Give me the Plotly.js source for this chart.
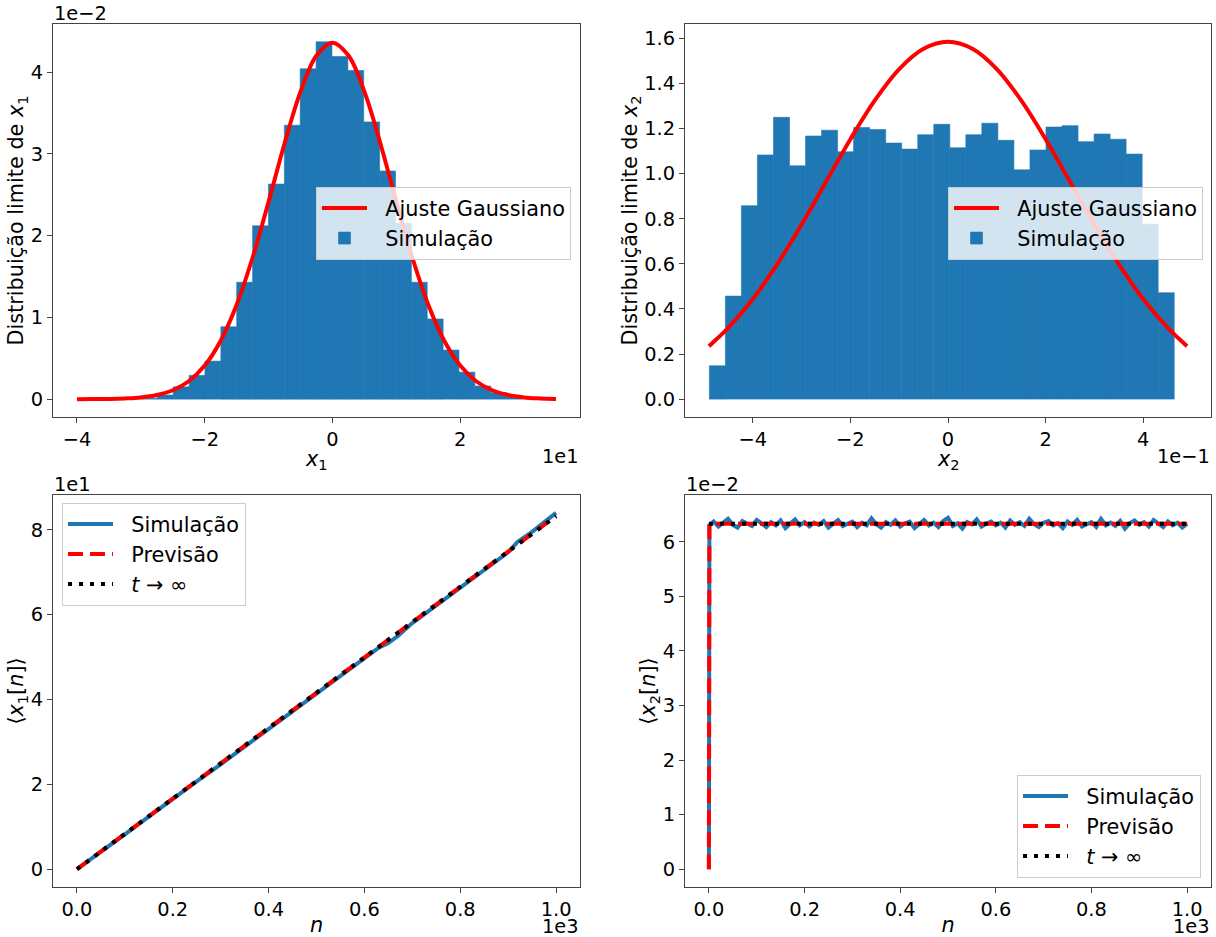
<!DOCTYPE html>
<html>
<head>
<meta charset="utf-8">
<script src="https://cdn.plot.ly/plotly-3.0.1.min.js"></script>
<style>html,body{margin:0;padding:0;background:#fff;}#chart{width:1216px;height:937px;}</style>
</head>
<body>
<div id="chart"></div>
<script>
// ---- Top-left: limit distribution of x1 (x in units of 1e1, density in units of 1e-2)
const x1BinCenters = [-2.866, -2.617, -2.369, -2.120, -1.872, -1.623, -1.375, -1.126, -0.878, -0.629, -0.381, -0.132, 0.117, 0.365, 0.614, 0.862, 1.111, 1.359, 1.608, 1.856, 2.105, 2.353, 2.602, 2.850];
const x1BinHeights = [0.01, 0.05, 0.15, 0.29, 0.465, 0.885, 1.43, 2.12, 2.63, 3.35, 4.04, 4.37, 4.19, 4.02, 3.39, 2.79, 2.15, 1.43, 0.98, 0.60, 0.33, 0.16, 0.08, 0.03];
const x1BinWidth = 0.2485;
const x1FitX = [-4, -3.75, -3.5, -3.25, -3, -2.75, -2.5, -2.25, -2, -1.75, -1.5, -1.25, -1, -0.75, -0.5, -0.25, 0, 0.25, 0.5, 0.75, 1, 1.25, 1.5, 1.75, 2, 2.25, 2.5, 2.75, 3, 3.25, 3.5];
const x1FitY = [0.000, 0.001, 0.003, 0.009, 0.021, 0.050, 0.109, 0.219, 0.410, 0.714, 1.154, 1.732, 2.415, 3.127, 3.761, 4.202, 4.360, 4.202, 3.761, 3.127, 2.415, 1.732, 1.154, 0.714, 0.410, 0.219, 0.109, 0.050, 0.021, 0.009, 0.003];

// ---- Top-right: limit distribution of x2 (x in units of 1e-1)
const x2BinCenters = [-4.726, -4.398, -4.069, -3.741, -3.412, -3.084, -2.755, -2.427, -2.098, -1.770, -1.441, -1.113, -0.784, -0.456, -0.127, 0.201, 0.530, 0.858, 1.187, 1.515, 1.844, 2.172, 2.501, 2.829, 3.158, 3.486, 3.815, 4.143, 4.472];
const x2BinHeights = [0.148, 0.457, 0.858, 1.083, 1.250, 1.035, 1.167, 1.193, 1.097, 1.205, 1.196, 1.136, 1.109, 1.173, 1.219, 1.115, 1.173, 1.224, 1.148, 1.017, 1.105, 1.207, 1.213, 1.142, 1.176, 1.153, 1.087, 0.776, 0.472];
const x2BinWidth = 0.3285;
const x2FitX = [-4.9, -4.5, -4, -3.5, -3, -2.5, -2, -1.5, -1, -0.5, 0, 0.5, 1, 1.5, 2, 2.5, 3, 3.5, 4, 4.5, 4.9];
const x2FitY = [0.235, 0.317, 0.444, 0.599, 0.775, 0.964, 1.153, 1.325, 1.464, 1.554, 1.585, 1.554, 1.464, 1.325, 1.153, 0.964, 0.775, 0.599, 0.444, 0.317, 0.235];

// ---- Bottom-left: <x1[n]> (n in units of 1e3, values in units of 1e1)
const nMean1 = [0, 0.05, 0.1, 0.15, 0.2, 0.25, 0.3, 0.35, 0.4, 0.45, 0.5, 0.55, 0.6, 0.63, 0.65, 0.67, 0.7, 0.75, 0.8, 0.85, 0.9, 0.92, 0.95, 1.0];
const simMean1 = [0, 0.40, 0.82, 1.24, 1.66, 2.07, 2.47, 2.88, 3.30, 3.72, 4.14, 4.56, 4.98, 5.22, 5.33, 5.50, 5.80, 6.22, 6.63, 7.05, 7.47, 7.72, 7.95, 8.40];
const predN1 = [0, 0.25, 0.5, 0.75, 1.0];
const predMean1 = [0, 2.08, 4.16, 6.24, 8.32];
const infN1 = [0, 1.0];
const infMean1 = [0, 8.32];

// ---- Bottom-right: <x2[n]> (n in units of 1e3, values in units of 1e-2)
const nMean2 = [0, 0.001, 0.01, 0.02, 0.03, 0.04, 0.05, 0.06, 0.07, 0.08, 0.09, 0.10, 0.11, 0.12, 0.13, 0.14, 0.15, 0.16, 0.17, 0.18, 0.19, 0.20, 0.21, 0.22, 0.23, 0.24, 0.25, 0.26, 0.27, 0.28, 0.29, 0.30, 0.31, 0.32, 0.33, 0.34, 0.35, 0.36, 0.37, 0.38, 0.39, 0.40, 0.41, 0.42, 0.43, 0.44, 0.45, 0.46, 0.47, 0.48, 0.49, 0.50, 0.51, 0.52, 0.53, 0.54, 0.55, 0.56, 0.57, 0.58, 0.59, 0.60, 0.61, 0.62, 0.63, 0.64, 0.65, 0.66, 0.67, 0.68, 0.69, 0.70, 0.71, 0.72, 0.73, 0.74, 0.75, 0.76, 0.77, 0.78, 0.79, 0.80, 0.81, 0.82, 0.83, 0.84, 0.85, 0.86, 0.87, 0.88, 0.89, 0.90, 0.91, 0.92, 0.93, 0.94, 0.95, 0.96, 0.97, 0.98, 0.99, 1.00];
const simMean2 = [0, 6.30, 6.37, 6.28, 6.35, 6.42, 6.31, 6.26, 6.38, 6.33, 6.29, 6.40, 6.34, 6.27, 6.36, 6.30, 6.39, 6.25, 6.33, 6.41, 6.30, 6.36, 6.28, 6.35, 6.31, 6.38, 6.26, 6.34, 6.40, 6.29, 6.33, 6.37, 6.27, 6.35, 6.30, 6.43, 6.32, 6.26, 6.36, 6.31, 6.39, 6.28, 6.34, 6.37, 6.25, 6.33, 6.40, 6.30, 6.35, 6.27, 6.38, 6.44, 6.29, 6.34, 6.24, 6.36, 6.32, 6.41, 6.28, 6.33, 6.37, 6.30, 6.35, 6.26, 6.39, 6.31, 6.36, 6.29, 6.42, 6.32, 6.27, 6.35, 6.38, 6.30, 6.34, 6.25, 6.37, 6.31, 6.40, 6.28, 6.33, 6.36, 6.27, 6.42, 6.30, 6.35, 6.29, 6.38, 6.24, 6.34, 6.39, 6.31, 6.36, 6.28, 6.40, 6.33, 6.27, 6.37, 6.30, 6.35, 6.26, 6.33];
const predN2 = [0, 0.001, 1.0];
const predMean2 = [0, 6.33, 6.33];
const infN2 = [0, 1.0];
const infMean2 = [6.33, 6.33];

const BLUE = '#1f77b4';
const FONT = 'DejaVu Sans, sans-serif';
const FT = 19.4;   // tick labels, offset texts
const FL = 20.8;   // legends, axis titles
const GAP = '\u00a0\u00a0';  // handle-to-text spacing in legends

const traces = [
  {x: x1FitX, y: x1FitY, type: 'scatter', mode: 'lines', name: GAP + 'Ajuste Gaussiano', line: {color: 'red', width: 4, shape: 'spline'}, xaxis: 'x', yaxis: 'y', legend: 'legend'},
  {x: x1BinCenters, y: x1BinHeights, width: x1BinWidth, type: 'bar', name: GAP + 'Simulação', marker: {color: BLUE, line: {width: 0.6, color: BLUE}}, xaxis: 'x', yaxis: 'y', legend: 'legend'},
  {x: x2FitX, y: x2FitY, type: 'scatter', mode: 'lines', name: GAP + 'Ajuste Gaussiano', line: {color: 'red', width: 4, shape: 'spline'}, xaxis: 'x2', yaxis: 'y2', legend: 'legend2'},
  {x: x2BinCenters, y: x2BinHeights, width: x2BinWidth, type: 'bar', name: GAP + 'Simulação', marker: {color: BLUE, line: {width: 0.6, color: BLUE}}, xaxis: 'x2', yaxis: 'y2', legend: 'legend2'},
  {x: nMean1, y: simMean1, type: 'scatter', mode: 'lines', name: GAP + 'Simulação', line: {color: BLUE, width: 4}, xaxis: 'x3', yaxis: 'y3', legend: 'legend3'},
  {x: predN1, y: predMean1, type: 'scatter', mode: 'lines', name: GAP + 'Previsão', line: {color: 'red', width: 4, dash: '15px,7px'}, xaxis: 'x3', yaxis: 'y3', legend: 'legend3'},
  {x: infN1, y: infMean1, type: 'scatter', mode: 'lines', name: GAP + '<i>t</i> → ∞', line: {color: 'black', width: 4, dash: '4px,7px'}, xaxis: 'x3', yaxis: 'y3', legend: 'legend3'},
  {x: nMean2, y: simMean2, type: 'scatter', mode: 'lines', name: GAP + 'Simulação', line: {color: BLUE, width: 4}, xaxis: 'x4', yaxis: 'y4', legend: 'legend4'},
  {x: predN2, y: predMean2, type: 'scatter', mode: 'lines', name: GAP + 'Previsão', line: {color: 'red', width: 4, dash: '15px,7px'}, xaxis: 'x4', yaxis: 'y4', legend: 'legend4'},
  {x: infN2, y: infMean2, type: 'scatter', mode: 'lines', name: GAP + '<i>t</i> → ∞', line: {color: 'black', width: 4, dash: '4px,7px'}, xaxis: 'x4', yaxis: 'y4', legend: 'legend4'}
];

function ax(extra) {
  return Object.assign({
    showgrid: false, zeroline: false, showline: true, mirror: true,
    linecolor: '#444', linewidth: 1, ticks: 'outside', ticklen: 5, tickcolor: '#444',
    tickfont: {family: FONT, size: FT, color: '#000'}, automargin: false, fixedrange: true
  }, extra);
}
function legendBox(x, y, xanchor, yanchor) {
  return {x: x, y: y, xanchor: xanchor, yanchor: yanchor, xref: 'paper', yref: 'paper',
    bgcolor: 'rgba(255,255,255,0.8)', bordercolor: '#cccccc', borderwidth: 1,
    font: {family: FONT, size: FL, color: '#000'}, itemwidth: 45, tracegroupgap: 0,
    traceorder: 'normal'};
}
function ttl(t, standoff) {
  return {text: t, font: {family: FONT, size: FL, color: '#000'}, standoff: standoff};
}
function txt(text, xref, x, y, xanchor, size, h) {
  return {text: text, xref: xref, yref: 'paper', x: x, y: y, xanchor: xanchor, yanchor: 'middle',
    height: h, borderpad: 0, showarrow: false, font: {family: FONT, size: size, color: '#000'}};
}

const W = 1216, H = 937;
const TOP = [1-417/H, 1-24/H], BOT = [1-887/H, 1-495/H];
const LEFT = [53/W, 580/W], RIGHT = [685/W, 1211/W];
const layout = {
  width: W, height: H, margin: {l: 0, r: 0, t: 0, b: 0},
  paper_bgcolor: '#fff', plot_bgcolor: '#fff', bargap: 0,
  font: {family: FONT, size: FT, color: '#000'},
  xaxis: ax({domain: LEFT, range: [-4.375, 3.875], dtick: 2, tick0: 0, anchor: 'y'}),
  yaxis: ax({domain: TOP, range: [-0.2185, 4.588], dtick: 1, tick0: 0, anchor: 'x', title: ttl('Distribuição limite de <i>x</i><sub>1</sub>', 0)}),
  xaxis2: ax({domain: RIGHT, range: [-5.39, 5.39], dtick: 2, tick0: 0, anchor: 'y2'}),
  yaxis2: ax({domain: TOP, range: [-0.0793, 1.664], dtick: 0.2, tick0: 0, tickformat: '.1f', anchor: 'x2', title: ttl('Distribuição limite de <i>x</i><sub>2</sub>', 0)}),
  xaxis3: ax({domain: LEFT, range: [-0.05, 1.05], dtick: 0.2, tick0: 0, tickformat: '.1f', anchor: 'y3', title: ttl('<i>n</i>', 0)}),
  yaxis3: ax({domain: BOT, range: [-0.42, 8.82], dtick: 2, tick0: 0, anchor: 'x3', title: ttl('⟨<i>x</i><sub>1</sub>[<i>n</i>]⟩', 0)}),
  xaxis4: ax({domain: RIGHT, range: [-0.05, 1.05], dtick: 0.2, tick0: 0, tickformat: '.1f', anchor: 'y4', title: ttl('<i>n</i>', 0)}),
  yaxis4: ax({domain: BOT, range: [-0.3265, 6.857], dtick: 1, tick0: 0, anchor: 'x4', title: ttl('⟨<i>x</i><sub>2</sub>[<i>n</i>]⟩', 0)}),
  legend: legendBox(316/W, 1-187/H, 'left', 'top'),
  legend2: legendBox(948/W, 1-187/H, 'left', 'top'),
  legend3: legendBox(62/W, 1-503/H, 'left', 'top'),
  legend4: legendBox(1201/W, 1-878/H, 'right', 'bottom'),
  annotations: [
    // x-axis titles of the top row
    txt('<i>x</i><sub>1</sub>', 'x domain', 0.5, 1-460/H, 'center', FL, 22),
    txt('<i>x</i><sub>2</sub>', 'x2 domain', 0.5, 1-460/H, 'center', FL, 22),
    // scientific offset texts
    txt('1e−2', 'paper', 53/W, 1-13/H, 'left', FT, 18),
    txt('1e1', 'paper', 580/W, 1-456/H, 'right', FT, 18),
    txt('1e−1', 'paper', 1211/W, 1-456/H, 'right', FT, 18),
    txt('1e1', 'paper', 53/W, 1-484/H, 'left', FT, 18),
    txt('1e3', 'paper', 580/W, 1-926/H, 'right', FT, 18),
    txt('1e−2', 'paper', 685/W, 1-484/H, 'left', FT, 18),
    txt('1e3', 'paper', 1211/W, 1-926/H, 'right', FT, 18)
  ]
};

Plotly.newPlot('chart', traces, layout, {displayModeBar: false, staticPlot: true});
</script>
</body>
</html>
